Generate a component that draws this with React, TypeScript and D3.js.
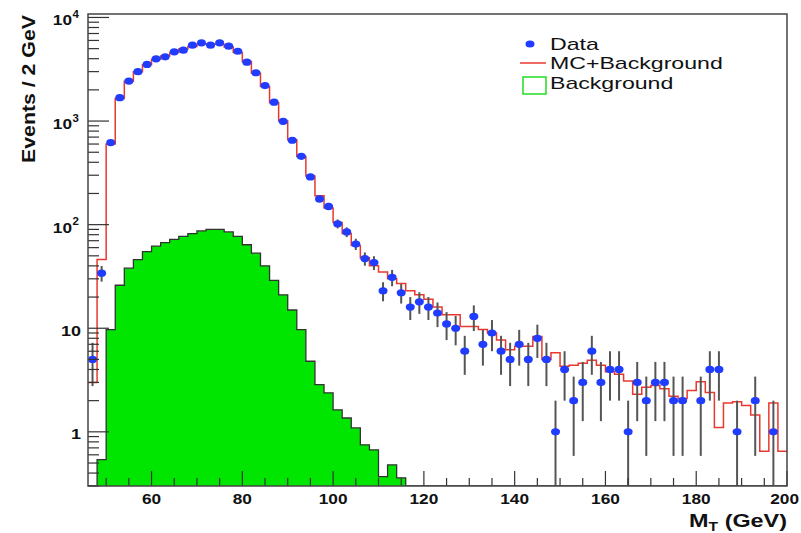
import React from "react";
import * as d3 from "d3";

const W = 801;
const H = 533;

// Transverse-mass histogram, 2 GeV bins from 46 to 200 GeV
const binWidth = 2;
const binLow = d3.range(46, 200, binWidth);

// Observed events per bin
const dataCounts = [
  5, 34, 620, 1680, 2430, 3000, 3520, 3990, 4170, 4660,
  4830, 5400, 5690, 5400, 5690, 5280, 4720, 3700, 2925, 2200,
  1520, 995, 653, 457, 289, 177, 150, 102, 85, 65,
  47, 43, 23, 31, 22, 16, 18, 16, 14, 11,
  10, 6, 13, 7, 9, 6, 5, 7, 5, 8,
  5, 1, 4, 2, 3, 6, 3, 4, 4, 1,
  3, 2, 3, 3, 2, 2, 0, 2, 4, 4,
  0, 1, 0, 2, 0, 1, 0,
];

// Signal MC plus background expectation
const mcPlusBackground = [
  3, 46, 600, 1650, 2420, 3000, 3500, 3950, 4250, 4600,
  4950, 5250, 5500, 5550, 5500, 5200, 4600, 3750, 2900, 2150,
  1500, 1000, 660, 455, 295, 190, 145, 105, 82, 63,
  48, 40, 35, 30, 27, 23, 21, 19, 16, 13.5,
  13.5, 10.4, 10.4, 9.7, 9.0, 7.7, 6.2, 6.7, 6.7, 8.3,
  5.0, 5.8, 4.3, 4.4, 4.6, 4.9, 4.4, 3.8, 3.6, 3.1,
  2.3, 2.7, 2.8, 2.6, 2.2, 2.1, 2.5, 3.05, 2.4, 1.1,
  1.9, 1.95, 1.8, 1.45, 0.65, 1.9, 0.65,
];

// Background-only expectation
const background = [
  0, 0.54, 9.7, 26, 38, 46, 55, 62, 67, 72,
  77, 82, 87, 90, 90, 85, 77, 64, 53, 40,
  29, 21, 15, 9.7, 4.8, 2.85, 2.38, 1.63, 1.36, 1.09,
  0.75, 0.67, 0.37, 0.48, 0.36, 0, 0, 0, 0, 0,
  0, 0, 0, 0, 0, 0, 0, 0, 0, 0,
  0, 0, 0, 0, 0, 0, 0, 0, 0, 0,
  0, 0, 0, 0, 0, 0, 0, 0, 0, 0,
  0, 0, 0, 0, 0, 0, 0,
];

const xMajorTicks = [60, 80, 100, 120, 140, 160, 180, 200];
const yMajorTicks = [1, 10, 100, 1000, 10000];

const legendItems = ["Data", "MC+Background", "Background"];

const FONT = "'Liberation Sans', Arial, Helvetica, sans-serif";

const frame = { left: 88, right: 787, top: 14, bottom: 486 };

const x = d3.scaleLinear().domain([46, 200]).range([frame.left, frame.right]);
const y = d3
  .scaleLog()
  .domain([0.3, 10800])
  .range([frame.bottom, frame.top])
  .clamp(true);

const yv = (v: number) => (v > 0 ? y(v) : frame.bottom);

type Pt = [number, number];

function stepPoints(values: number[]): Pt[] {
  const pts: Pt[] = values.map((v, i) => [binLow[i], v]);
  pts.push([binLow[binLow.length - 1] + binWidth, values[values.length - 1]]);
  return pts;
}

const stepLine = d3
  .line<Pt>()
  .x((d) => x(d[0]))
  .y((d) => yv(d[1]))
  .curve(d3.curveStepAfter);

const stepArea = d3
  .area<Pt>()
  .x((d) => x(d[0]))
  .y0(frame.bottom)
  .y1((d) => yv(d[1]))
  .curve(d3.curveStepAfter);

function SText(props: {
  x: number;
  y: number;
  sx?: number;
  anchor?: "start" | "middle" | "end";
  size: number;
  weight?: string | number;
  children: React.ReactNode;
}) {
  const { sx = 1.25, anchor = "start", size, weight = "normal" } = props;
  return (
    <g transform={`translate(${props.x},${props.y}) scale(${sx},1)`}>
      <text
        textAnchor={anchor}
        fontSize={size}
        fontWeight={weight}
        fontFamily={FONT}
        fill="#111"
      >
        {props.children}
      </text>
    </g>
  );
}

export default function App() {
  const bgPts = stepPoints(background);
  const mcPts = stepPoints(mcPlusBackground);

  const yTicks = y.ticks();
  const yMinor = yTicks.filter(
    (t) => !yMajorTicks.some((m) => Math.abs(m - t) / m < 1e-6)
  );
  const xMinor = d3.range(50, 200, 5).filter((t) => t % 20 !== 0);

  const points = dataCounts
    .map((n, i) => ({ n, c: binLow[i] + binWidth / 2 }))
    .filter((d) => d.n > 0);

  // x tick labels are kept inside the page on the right-hand side
  const xLabelScale = 1.15;
  const xLabelX = (t: number) => {
    const half = (String(t).length * 8.34 * xLabelScale) / 2;
    return Math.min(x(t), W - half - 2);
  };

  return (
    <svg
      width={W}
      height={H}
      viewBox={`0 0 ${W} ${H}`}
      style={{ position: "absolute", left: 0, top: 0, background: "#fff" }}
    >
      <defs>
        <clipPath id="plotArea">
          <rect
            x={frame.left}
            y={frame.top}
            width={frame.right - frame.left}
            height={frame.bottom - frame.top}
          />
        </clipPath>
      </defs>
      <rect x={0} y={0} width={W} height={H} fill="#fff" />

      <g clipPath="url(#plotArea)">
        {/* background histogram */}
        <path d={stepArea(bgPts) ?? ""} fill="#00e600" stroke="none" />
        <path
          d={stepLine(bgPts) ?? ""}
          fill="none"
          stroke="#333"
          strokeWidth={1.3}
        />
        {/* MC + background */}
        <path
          d={stepLine(mcPts) ?? ""}
          fill="none"
          stroke="#e8382f"
          strokeWidth={1.5}
        />
        {/* data error bars */}
        {points.map((d, i) => {
          const s = Math.sqrt(d.n);
          return (
            <line
              key={"e" + i}
              x1={x(d.c)}
              x2={x(d.c)}
              y1={yv(d.n + s)}
              y2={yv(d.n - s)}
              stroke="#555"
              strokeWidth={2}
            />
          );
        })}
        {/* data markers */}
        {points.map((d, i) => (
          <ellipse
            key={"p" + i}
            cx={x(d.c)}
            cy={yv(d.n)}
            rx={4.5}
            ry={3.6}
            fill="#1f3cff"
          />
        ))}
      </g>

      {/* y ticks */}
      {yMajorTicks.map((t) => (
        <line
          key={"ym" + t}
          x1={frame.left}
          x2={frame.left + 21}
          y1={y(t)}
          y2={y(t)}
          stroke="#333"
          strokeWidth={1.2}
        />
      ))}
      {yMinor.map((t, i) => (
        <line
          key={"yn" + i}
          x1={frame.left}
          x2={frame.left + 11}
          y1={y(t)}
          y2={y(t)}
          stroke="#333"
          strokeWidth={1.2}
        />
      ))}

      {/* x ticks */}
      {xMajorTicks.map((t) => (
        <line
          key={"xm" + t}
          x1={x(t)}
          x2={x(t)}
          y1={frame.bottom}
          y2={frame.bottom - 15}
          stroke="#333"
          strokeWidth={1.2}
        />
      ))}
      {xMinor.map((t) => (
        <line
          key={"xn" + t}
          x1={x(t)}
          x2={x(t)}
          y1={frame.bottom}
          y2={frame.bottom - 8}
          stroke="#333"
          strokeWidth={1.2}
        />
      ))}

      {/* frame */}
      <rect
        x={frame.left}
        y={frame.top}
        width={frame.right - frame.left}
        height={frame.bottom - frame.top}
        fill="none"
        stroke="#444"
        strokeWidth={1.5}
      />

      {/* x tick labels */}
      {xMajorTicks.map((t) => (
        <SText
          key={"xl" + t}
          x={xLabelX(t)}
          y={503.5}
          anchor="middle"
          size={15}
          weight="bold"
          sx={xLabelScale}
        >
          {String(t)}
        </SText>
      ))}

      {/* y tick labels */}
      {yMajorTicks.map((t) => {
        const e = Math.round(Math.log10(t));
        const ty = y(t);
        if (e <= 1) {
          return (
            <SText key={"yl" + t} x={81} y={ty + 7.5} anchor="end" size={15} weight="bold" sx={1.2}>
              {String(t)}
            </SText>
          );
        }
        return (
          <g key={"yl" + t}>
            <SText x={72} y={ty + 8} anchor="end" size={15} weight="bold" sx={1.15}>
              10
            </SText>
            <SText x={72.5} y={ty + 0.5} anchor="start" size={10} weight="bold" sx={1.15}>
              {String(e)}
            </SText>
          </g>
        );
      })}

      {/* axis titles */}
      <g transform="translate(35,89) rotate(-90)">
        <text
          textAnchor="middle"
          fontSize={18}
          fontWeight="bold"
          fontFamily={FONT}
          fill="#111"
          textLength={148}
          lengthAdjust="spacingAndGlyphs"
        >
          Events / 2 GeV
        </text>
      </g>
      <g transform="translate(787,527) scale(1.3,1)">
        <text textAnchor="end" fontSize={18} fontWeight="bold" fontFamily={FONT} fill="#111">
          M
          <tspan fontSize={12} dy={4}>
            T
          </tspan>
          <tspan dy={-4}> (GeV)</tspan>
        </text>
      </g>

      {/* legend */}
      <ellipse cx={530} cy={44} rx={4.5} ry={3.6} fill="#1f3cff" />
      <line x1={520} x2={546} y1={63} y2={63} stroke="#e8382f" strokeWidth={1.5} />
      <rect x={523} y={77} width={23} height={17} fill="none" stroke="#22dd22" strokeWidth={1.5} />
      {legendItems.map((label, i) => (
        <SText key={label} x={550} y={[49.5, 68.5, 89][i]} size={17} sx={1.36}>
          {label}
        </SText>
      ))}
    </svg>
  );
}
